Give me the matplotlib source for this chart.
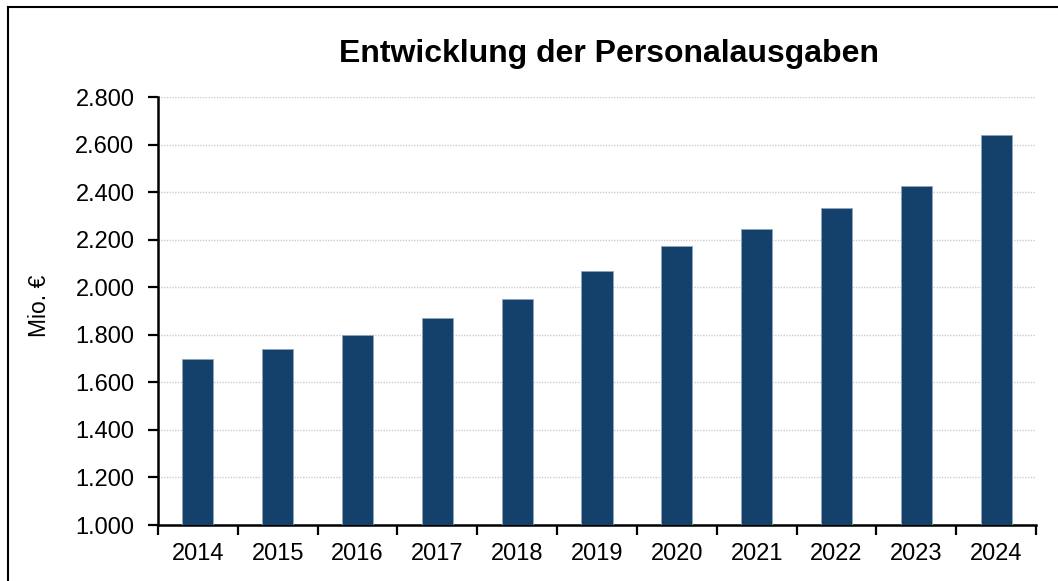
import matplotlib.pyplot as plt
from matplotlib.lines import Line2D
from matplotlib.ticker import FuncFormatter
import numpy as np

plt.rcParams['font.family'] = ['Liberation Sans', 'DejaVu Sans']

years = ['2014', '2015', '2016', '2017', '2018', '2019', '2020', '2021', '2022', '2023', '2024']
ausgaben = [1700, 1740, 1800, 1870, 1950, 2068, 2173, 2245, 2333, 2426, 2640]

W, H = 1058, 581
fig = plt.figure(figsize=(W / 100, H / 100), dpi=100)
ax = fig.add_axes([158 / W, 1 - 525 / H, (1036 - 158) / W, (525 - 97) / H])

x = np.arange(len(years))
ax.bar(x, ausgaben, width=0.39, color='#13416b', edgecolor='#8fa6bd', linewidth=0.6, zorder=3)

ax.set_ylim(1000, 2800)
ax.set_yticks(np.arange(1000, 2801, 200))
ax.yaxis.set_major_formatter(FuncFormatter(lambda v, p: f'{int(v):,}'.replace(',', '.')))
ax.set_xlim(-0.5, len(years) - 0.5)
# ticks between the categories, labels at the centres
ax.set_xticks(np.arange(-0.5, len(years)), labels=[])
ax.set_xticks(x, labels=years, minor=True)
ax.tick_params(axis='x', which='minor', length=0, pad=13, labelsize=17)
ax.tick_params(axis='x', which='major', length=7, width=1.6)
ax.tick_params(axis='y', length=7, width=1.6, pad=10, labelsize=17)

ax.grid(axis='y', color='#cccccc', linewidth=1, linestyle=(0, (1, 1)), zorder=0)
for s in ['top', 'right']:
    ax.spines[s].set_visible(False)
for s in ['left', 'bottom']:
    ax.spines[s].set_linewidth(1.8)

fig.text(609 / W, 1 - 54 / H, 'Entwicklung der Personalausgaben', ha='center', va='center',
         fontsize=23, fontweight='bold')
fig.text(40 / W, 1 - 306 / H, 'Mio. €', rotation=90, ha='center', va='center', fontsize=16.5)

# chart frame (only top and left edges fall inside the picture)
fig.add_artist(Line2D([8 / W, 1.0], [1 - 7 / H, 1 - 7 / H], color='black', linewidth=1.5))
fig.add_artist(Line2D([8 / W, 8 / W], [0, 1 - 7 / H], color='black', linewidth=1.5))

plt.savefig('out.png', dpi=100)
